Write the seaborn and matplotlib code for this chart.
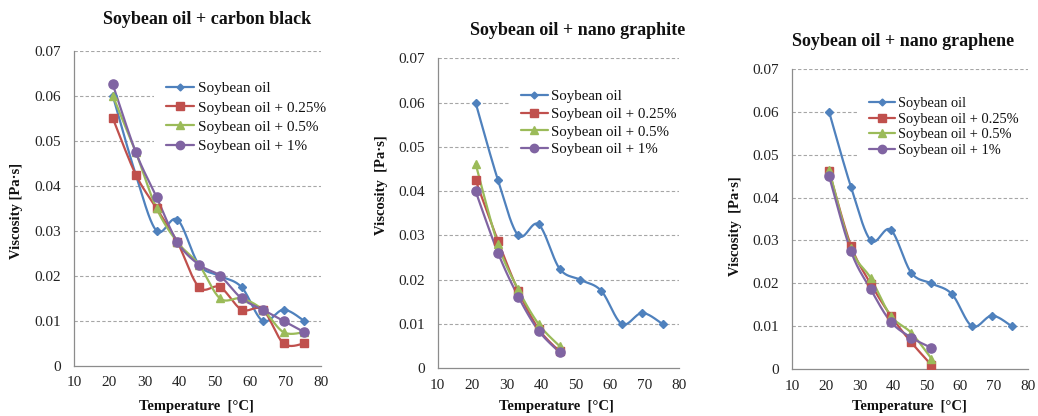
import numpy as np
import pandas as pd
import matplotlib
matplotlib.use("Agg")
import matplotlib.pyplot as plt
from matplotlib.lines import Line2D
import seaborn as sns

# ---------------- data ----------------
temperature = [21, 27.5, 33.4, 39.3, 45.4, 51.4, 57.5, 63.5, 69.4, 75.3]
series_names = ["Soybean oil", "Soybean oil + 0.25%", "Soybean oil + 0.5%", "Soybean oil + 1%"]

soy_oil = [0.060, 0.0425, 0.030, 0.0325, 0.0225, 0.020, 0.0175, 0.010, 0.0125, 0.010]

cb_025 = [0.055, 0.0425, 0.035, 0.0275, 0.0175, 0.0175, 0.0125, 0.0125, 0.005, 0.005]
cb_05 = [0.060, 0.0475, 0.035, 0.0275, 0.0225, 0.015, 0.015, 0.0125, 0.0075, 0.0075]
cb_1 = [0.0625, 0.0475, 0.0375, 0.0275, 0.0225, 0.020, 0.015, 0.0125, 0.010, 0.0075]

gr_025 = [0.0425, 0.0288, 0.0175, 0.0089, 0.0038]
gr_05 = [0.0462, 0.0280, 0.0178, 0.0100, 0.0050]
gr_1 = [0.0400, 0.0261, 0.0162, 0.0085, 0.0036]

ge_025 = [0.0462, 0.0288, 0.0199, 0.0125, 0.0063, 0.0010]
ge_05 = [0.0465, 0.0282, 0.0212, 0.0125, 0.0085, 0.0025]
ge_1 = [0.0450, 0.0275, 0.0186, 0.0111, 0.0074, 0.0050]

titles = ["Soybean oil + carbon black", "Soybean oil + nano graphite", "Soybean oil + nano graphene"]
x_ticks = [10, 20, 30, 40, 50, 60, 70, 80]
y_ticks = [0, 0.01, 0.02, 0.03, 0.04, 0.05, 0.06, 0.07]
y_tick_labels = ["0", "0.01", "0.02", "0.03", "0.04", "0.05", "0.06", "0.07"]

panels = [
    [soy_oil, cb_025, cb_05, cb_1],
    [soy_oil, gr_025, gr_05, gr_1],
    [soy_oil, ge_025, ge_05, ge_1],
]

colors = ["#4F81BD", "#C0504D", "#9BBB59", "#8064A2"]
markers = ["D", "s", "^", "o"]
msizes = [4.0, 6.0, 6.2, 6.6]
leg_msizes = [3.5, 5.5, 5.5, 6.0]

# ---------------- helpers ----------------
def smooth(xs, ys, n=30):
    """Excel-like smoothed line (Catmull-Rom Bezier) through the points."""
    P = np.column_stack([xs, ys]).astype(float)
    m = len(P)
    out = []
    for i in range(m - 1):
        p0 = P[i - 1] if i > 0 else P[i]
        p1 = P[i]
        p2 = P[i + 1]
        p3 = P[i + 2] if i + 2 < m else P[i + 1]
        b1 = p1 + (p2 - p0) / 6.0
        b2 = p2 - (p3 - p1) / 6.0
        t = np.linspace(0, 1, n, endpoint=(i == m - 2))[:, None]
        seg = ((1 - t) ** 3) * p1 + 3 * ((1 - t) ** 2) * t * b1 + 3 * (1 - t) * t ** 2 * b2 + t ** 3 * p2
        out.append(seg)
    c = np.vstack(out)
    return c[:, 0], c[:, 1]

# ---------------- figure ----------------
sns.set_theme(style="white")
plt.rcParams["font.family"] = ["Liberation Serif", "DejaVu Serif"]

W, H = 1038, 416
fig = plt.figure(figsize=(W / 100, H / 100), dpi=100)

def fx(px):
    return px / W

def fy(py):
    return 1 - py / H

# axes boxes in pixels: left, right, top, bottom
boxes = [(74, 321, 50.7, 366), (437.7, 678.7, 58.3, 368.3), (792, 1027.7, 68.7, 369.3)]
title_pos = [(206.7, 20), (577.7, 30.7), (903, 41.7)]
ylabel_pos = [(16.5, 211), (381, 185), (735.3, 226)]
ylabel_txt = ["Viscosity [Pa\u00b7s]", "Viscosity  [Pa\u00b7s]", "Viscosity  [Pa\u00b7s]"]
xlabel_pos = [(196.7, 406.5), (556.8, 406.5), (909.5, 406.5)]
legend_anchor = [(154, 117.3), (509, 123), (857, 126.9)]
legend_fs = [11, 10.7, 10.4]
legend_spacing = [0.36, 0.30, 0.18]

for k, (l, r, t, b) in enumerate(boxes):
    ax = fig.add_axes([fx(l), fy(b), fx(r - l), (b - t) / H])
    ax.set_facecolor("white")
    data = panels[k]
    for j, ys in enumerate(data):
        xs = temperature[: len(ys)]
        sx, sy = smooth(xs, ys)
        sns.lineplot(x=sx, y=sy, ax=ax, color=colors[j], lw=1.6, sort=False,
                     estimator=None, zorder=3 + j, legend=False)
        ax.plot(xs, ys, linestyle="none", marker=markers[j], ms=msizes[j],
                color=colors[j], mec=colors[j], zorder=10 + j)
    ax.set_xlim(10, 80)
    ax.set_ylim(0, 0.07)
    ax.set_xticks(x_ticks)
    ax.set_yticks(y_ticks)
    ax.set_yticklabels(y_tick_labels)
    ax.tick_params(axis="both", length=0, labelsize=11, colors="#222222")
    ax.tick_params(axis="y", pad=9.5)
    ax.tick_params(axis="x", pad=7.5)
    for yv in y_ticks[1:]:
        ax.axhline(yv, color="#A6A6A6", lw=0.8, ls=(0, (3, 2)), zorder=1)
    for s in ["top", "right"]:
        ax.spines[s].set_visible(False)
    for s in ["left", "bottom"]:
        ax.spines[s].set_color("#8C8C8C")
        ax.spines[s].set_linewidth(0.9)
    ax.set_xlabel("")
    ax.set_ylabel("")

    handles = [Line2D([0], [0], color=colors[j], lw=1.6, marker=markers[j],
                      ms=leg_msizes[j], mec=colors[j]) for j in range(4)]
    leg = ax.legend(handles, series_names, loc="center left",
                    bbox_to_anchor=(fx(legend_anchor[k][0]), fy(legend_anchor[k][1])),
                    bbox_transform=fig.transFigure, frameon=True, fancybox=False,
                    facecolor="white", edgecolor="none", framealpha=1,
                    fontsize=legend_fs[k], handlelength=1.8, handletextpad=0.25,
                    labelspacing=legend_spacing[k], borderpad=0.8, borderaxespad=0)
    for txt in leg.get_texts():
        txt.set_color("#111111")
    leg.set_zorder(20)

    fig.text(fx(title_pos[k][0]), fy(title_pos[k][1]), titles[k], ha="center", va="center",
             fontsize=13, fontweight="bold", color="#111111")
    fig.text(fx(ylabel_pos[k][0]), fy(ylabel_pos[k][1]), ylabel_txt[k], ha="center", va="center",
             rotation=90, fontsize=10.5, fontweight="bold", color="#111111")
    fig.text(fx(xlabel_pos[k][0]), fy(xlabel_pos[k][1]), "Temperature  [\u00b0C]", ha="center",
             va="center", fontsize=10.5, fontweight="bold", color="#111111")

fig.savefig("out.png", dpi=100, facecolor="white")
